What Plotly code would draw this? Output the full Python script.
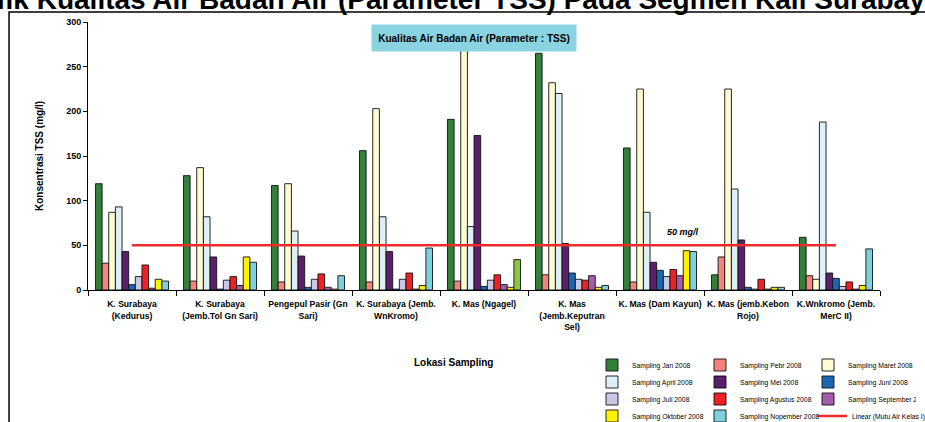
import plotly.graph_objects as go

# Sampling locations along Kali Surabaya / Kali Mas
lokasi = [
    "K. Surabaya (Kedurus)",
    "K. Surabaya (Jemb.Tol Gn Sari)",
    "Pengepul Pasir (Gn Sari)",
    "K. Surabaya (Jemb. WnKromo)",
    "K. Mas (Ngagel)",
    "K. Mas (Jemb.Keputran Sel)",
    "K. Mas (Dam Kayun)",
    "K. Mas (jemb.Kebon Rojo)",
    "K.Wnkromo (Jemb. MerC II)",
]
lokasi_label = [
    "K. Surabaya<br>(Kedurus)",
    "K. Surabaya<br>(Jemb.Tol Gn Sari)",
    "Pengepul Pasir (Gn<br>Sari)",
    "K. Surabaya (Jemb.<br>WnKromo)",
    "K. Mas (Ngagel)",
    "K. Mas<br>(Jemb.Keputran<br>Sel)",
    "K. Mas (Dam Kayun)",
    "K. Mas (jemb.Kebon<br>Rojo)",
    "K.Wnkromo (Jemb.<br>MerC II)",
]

# TSS concentration (mg/l) per sampling month
tss_jan = [119, 128, 117, 156, 191, 265, 159, 17, 59]
tss_pebr = [30, 10, 9, 9, 10, 17, 9, 37, 16]
tss_maret = [87, 137, 119, 203, 280, 232, 225, 225, 12]
tss_april = [93, 82, 66, 82, 71, 220, 87, 113, 188]
tss_mei = [43, 37, 38, 43, 173, 52, 31, 56, 19]
tss_juni = [6, 1, 3, 1, 4, 19, 22, 3, 13]
tss_juli = [15, 11, 12, 12, 11, 12, 15, 1, 4]
tss_agustus = [28, 15, 18, 19, 17, 11, 23, 12, 9]
tss_september = [2, 5, 3, 1, 6, 16, 16, 1, 1]
tss_oktober = [12, 37, 1, 5, 3, 3, 44, 3, 5]
tss_nopember = [10, 31, 16, 47, 34, 5, 43, 3, 46]

baku_mutu = 50  # Mutu Air Kelas I

series = [
    ("Sampling Jan 2008", tss_jan, "#33803A"),
    ("Sampling Pebr 2008", tss_pebr, "#F4837D"),
    ("Sampling Maret 2008", tss_maret, "#FFFBD2"),
    ("Sampling April 2008", tss_april, "#DDF0F6"),
    ("Sampling Mei 2008", tss_mei, "#5C1F6B"),
    ("Sampling Juni 2008", tss_juni, "#1F66B2"),
    ("Sampling Juli 2008", tss_juli, "#C8C8E6"),
    ("Sampling Agustus 2008", tss_agustus, "#EE2024"),
    ("Sampling September 2008", tss_september, "#A55DAB"),
    ("Sampling Oktober 2008", tss_oktober, "#FFF200"),
    ("Sampling Nopember 2008", tss_nopember, "#7FD0DE"),
]

SANS = "Liberation Sans, Arial, sans-serif"
# legend box for each series: rows of three, last row split so long names are not clipped
LEGEND_OF = ["legend", "legend", "legend",
             "legend2", "legend2", "legend2",
             "legend3", "legend3", "legend3",
             "legend4", "legend6"]

fig = go.Figure()
for i, (name, vals, col) in enumerate(series):
    colors = [col] * len(vals)
    if name == "Sampling Nopember 2008":
        colors[4] = "#8CC63F"  # Ngagel sample plotted in green
    fig.add_trace(go.Bar(
        x=lokasi, y=vals, name=name, legend=LEGEND_OF[i],
        marker=dict(color=colors, line=dict(color="#111111", width=0.9)),
    ))

fig.add_trace(go.Scatter(
    x=lokasi, y=[baku_mutu] * len(lokasi), mode="lines",
    name="Linear (Mutu Air Kelas I)", legend="legend5",
    line=dict(color="#EE2A2A", width=2.5),
))

# Chart frame
fig.add_shape(type="rect", xref="paper", yref="paper",
              x0=-0.0997, x1=1.07, y0=-0.6, y1=1.0373,
              line=dict(color="black", width=1.5), layer="below")

annotations = [
    dict(text="<b>Kualitas Air Badan Air (Parameter : TSS)</b>",
         xref="paper", yref="paper", x=0.4874, y=0.940,
         xanchor="center", yanchor="middle", showarrow=False,
         width=204, height=26, borderpad=0, bgcolor="#8AD3E1",
         font=dict(family=SANS, size=10, color="black")),
    dict(text="<b><i>50 mg/l</i></b>", xref="paper", yref="y",
         x=0.7513, y=65, xanchor="center", yanchor="middle",
         showarrow=False, font=dict(family=SANS, size=9, color="black")),
    dict(text="<b>Lokasi Sampling</b>", xref="paper", yref="paper",
         x=(453.5 - 88) / 792, y=(290 - 362.7) / 268,
         xanchor="center", yanchor="middle", showarrow=False,
         font=dict(family=SANS, size=10, color="black")),
    dict(text="<b>Grafik Kualitas Air Badan Air (Parameter TSS) Pada Segmen Kali Surabaya</b>",
         xref="paper", yref="paper", x=(-54 - 88) / 792,
         y=(290 - 17) / 268, xanchor="left", yanchor="bottom",
         showarrow=False, font=dict(family=SANS, size=28, color="black")),
]


def legend_row(row_y, x_px, fixed=True):
    opts = dict(
        orientation="h", xref="container", yref="container",
        x=x_px / 925, y=1 - row_y / 422, xanchor="left", yanchor="middle",
        itemwidth=30, bgcolor="rgba(0,0,0,0)", borderwidth=0,
        font=dict(family=SANS, size=6.8, color="black"),
        traceorder="normal",
    )
    if fixed:
        opts.update(entrywidth=63, entrywidthmode="pixels")
    return opts


legend_rows = {
    "legend": legend_row(365, 592),
    "legend2": legend_row(382, 592),
    "legend3": legend_row(399, 592),
    "legend4": legend_row(416, 592, fixed=False),
    "legend6": legend_row(416, 700, fixed=False),
    "legend5": legend_row(416, 812, fixed=False),
}

fig.update_layout(
    width=925, height=422,
    margin=dict(l=88, r=45, t=22, b=132),
    paper_bgcolor="white", plot_bgcolor="white",
    barmode="group", bargap=0.17, bargroupgap=0,
    showlegend=True,
    annotations=annotations,
    xaxis=dict(tickmode="array", tickvals=lokasi, ticktext=[f"<b>{t}</b>" for t in lokasi_label],
               showline=True, linecolor="black", linewidth=1,
               ticks="outside", tickson="boundaries", ticklen=5, tickcolor="black",
               ticklabelstandoff=6,
               tickfont=dict(family=SANS, size=8.6, color="black"),
               tickangle=0, showgrid=False),
    yaxis=dict(range=[0, 300], dtick=50, showline=True, linecolor="black", linewidth=1,
               ticks="outside", ticklen=4, tickcolor="black", showgrid=False, zeroline=False,
               tickfont=dict(family=SANS, size=9, color="black", weight="bold"),
               title=dict(text="<b>Konsentrasi TSS (mg/l)</b>", standoff=20,
                          font=dict(family=SANS, size=10, color="black"))),
    **legend_rows,
)

fig.write_html("out.html")
